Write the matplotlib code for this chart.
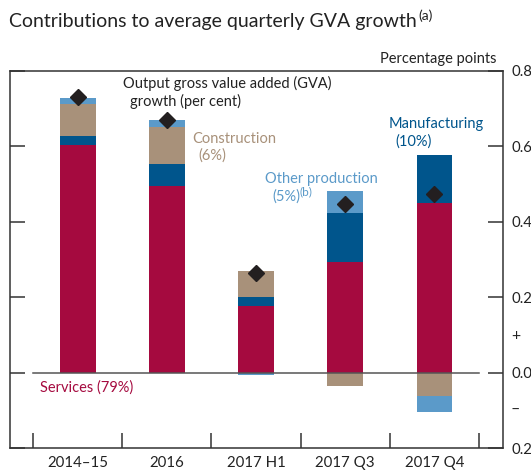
import matplotlib
matplotlib.use("Agg")
import matplotlib.pyplot as plt
import numpy as np

plt.rcParams['font.family'] = ['Lato', 'DejaVu Sans']

categories = ["2014\u201315", "2016", "2017 H1", "2017 Q3", "2017 Q4"]
services = [0.604, 0.495, 0.177, 0.294, 0.449]
manufacturing = [0.024, 0.058, 0.024, 0.129, 0.127]
construction = [0.084, 0.098, 0.069, -0.036, -0.062]
other_production = [0.016, 0.019, -0.007, 0.059, -0.042]
gva_growth = [0.732, 0.669, 0.264, 0.447, 0.474]

ytick_vals = [0.8, 0.6, 0.4, 0.2, 0.0, -0.2]
ytick_labels = ["0.8", "0.6", "0.4", "0.2", "0.0", "0.2"]

c_serv = "#A50A3F"
c_manu = "#00558C"
c_cons = "#A8917A"
c_other = "#5B9AC9"
c_diam = "#231F20"
c_axis = "#333333"
c_text = "#222222"

W, H = 531, 470
fig = plt.figure(figsize=(W / 100, H / 100), dpi=100)

def fx(px):
    return px / W

def fy(py):
    return 1 - py / H

ax = fig.add_axes([fx(10), fy(448), fx(503) - fx(10), fy(71) - fy(448)])

x = np.arange(len(categories))
width = 0.40
series = [(services, c_serv), (manufacturing, c_manu), (construction, c_cons), (other_production, c_other)]
pos_base = np.zeros(len(x))
neg_base = np.zeros(len(x))
for vals, col in series:
    v = np.array(vals)
    bottoms = np.where(v >= 0, pos_base, neg_base)
    ax.bar(x, v, width, bottom=bottoms, color=col, linewidth=0, zorder=2)
    pos_base = pos_base + np.where(v >= 0, v, 0)
    neg_base = neg_base + np.where(v < 0, v, 0)

ax.plot(x, gva_growth, linestyle="none", marker="D", markersize=8.2,
        color=c_diam, zorder=4)

ax.plot([-0.5, 4.5], [0, 0], color="#555555", lw=1.1, zorder=3)

ax.set_xlim(-0.76, 4.77)
ax.set_ylim(-0.2, 0.8)

for s in ax.spines.values():
    s.set_color(c_axis)
    s.set_linewidth(1.1)

ax.set_xticks(np.arange(-0.5, len(categories), 1.0))
ax.set_xticklabels([])
ax.set_xticks(x, minor=True)
ax.set_xticklabels(categories, minor=True)
ax.tick_params(axis="x", which="major", direction="in", length=11, width=1.1,
               color=c_axis, top=False)
ax.tick_params(axis="x", which="minor", length=0, pad=6, labelsize=10.8,
               labelcolor=c_text)

ax.set_yticks(ytick_vals)
ax.set_yticklabels(ytick_labels)
ax.tick_params(axis="y", direction="in", length=11, width=1.1, color=c_axis,
               left=True, right=True, labelleft=False, labelright=True,
               labelsize=10.8, labelcolor=c_text, pad=6)

# sign markers between tick labels
fig.text(fx(511), fy(336), "+", ha="left", va="center", fontsize=11.5, color=c_text)
fig.text(fx(511), fy(410), "\u2013", ha="left", va="center", fontsize=11.5, color=c_text)

# title and units
fig.text(fx(9), fy(27), "Contributions to average quarterly GVA growth",
         fontsize=14.0, color=c_text, va="baseline", ha="left")
fig.text(fx(418), fy(20), "(a)", fontsize=10, color=c_text, va="baseline", ha="left")
fig.text(fx(497), fy(63), "Percentage points", fontsize=10.5, color=c_text,
         ha="right", va="baseline")

# annotations
fs = 10.5
fig.text(fx(123), fy(88), "Output gross value added (GVA)", fontsize=fs, color=c_text, va="baseline")
fig.text(fx(130), fy(106), "growth (per cent)", fontsize=fs, color=c_text, va="baseline")
fig.text(fx(192), fy(143), "Construction", fontsize=fs, color=c_cons, va="baseline")
fig.text(fx(198), fy(160), "(6%)", fontsize=fs, color=c_cons, va="baseline")
fig.text(fx(265), fy(183), "Other production", fontsize=fs, color=c_other, va="baseline")
fig.text(fx(272), fy(201), "(5%)", fontsize=fs, color=c_other, va="baseline")
fig.text(fx(300), fy(195), "(b)", fontsize=8.5, color=c_other, va="baseline")
fig.text(fx(389), fy(128), "Manufacturing", fontsize=fs, color=c_manu, va="baseline")
fig.text(fx(395), fy(146), "(10%)", fontsize=fs, color=c_manu, va="baseline")
fig.text(fx(40), fy(392), "Services (79%)", fontsize=fs, color=c_serv, va="baseline")

fig.savefig("out.png", dpi=100)
